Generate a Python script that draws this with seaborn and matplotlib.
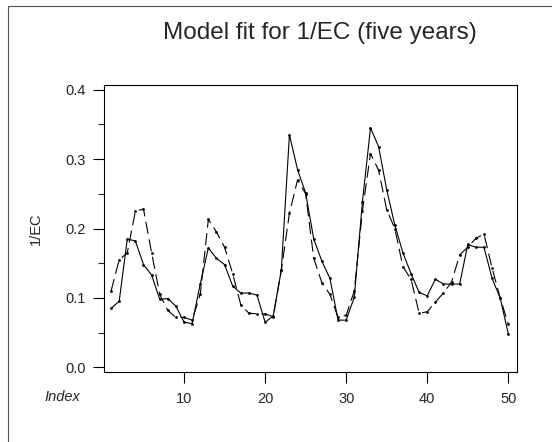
import numpy as np
import pandas as pd
import matplotlib
matplotlib.use("Agg")
import matplotlib.pyplot as plt
import seaborn as sns
from matplotlib.lines import Line2D
from matplotlib.ticker import MultipleLocator

# observed 1/EC and model fit, indices 1..50
index = list(range(1, 51))
observed = [0.085, 0.095, 0.185, 0.182, 0.148, 0.133, 0.098, 0.099, 0.088, 0.065,
            0.063, 0.120, 0.172, 0.157, 0.148, 0.117, 0.107, 0.107, 0.104, 0.065,
            0.074, 0.140, 0.335, 0.285, 0.251, 0.185, 0.153, 0.128, 0.068, 0.068,
            0.101, 0.238, 0.345, 0.318, 0.256, 0.205, 0.165, 0.135, 0.108, 0.103,
            0.127, 0.120, 0.120, 0.120, 0.177, 0.173, 0.173, 0.128, 0.100, 0.048]
fitted = [0.110, 0.155, 0.165, 0.225, 0.228, 0.165, 0.105, 0.082, 0.072, 0.072,
          0.068, 0.105, 0.213, 0.195, 0.173, 0.135, 0.090, 0.078, 0.077, 0.077,
          0.073, 0.140, 0.222, 0.270, 0.250, 0.157, 0.122, 0.105, 0.072, 0.075,
          0.110, 0.225, 0.308, 0.284, 0.227, 0.200, 0.145, 0.127, 0.078, 0.080,
          0.094, 0.107, 0.123, 0.162, 0.173, 0.186, 0.192, 0.143, 0.100, 0.062]

df = pd.DataFrame({"Index": index + index,
                   "value": observed + fitted,
                   "series": ["observed"] * 50 + ["fitted"] * 50})

sns.set_style("ticks")
plt.rcParams['font.family'] = ['Liberation Sans', 'DejaVu Sans']

fig = plt.figure(figsize=(5.52, 4.42), dpi=100)
ax = fig.add_axes([0.188, 0.158, 0.749, 0.650])

sns.lineplot(data=df, x="Index", y="value", hue="series", style="series",
             palette={"observed": "black", "fitted": "black"},
             dashes={"observed": "", "fitted": (11, 5)},
             markers={"observed": "o", "fitted": "o"}, markersize=2,
             markeredgewidth=0, linewidth=0.8, legend=False, ax=ax)

ax.set_xlim(0.1, 51.1)
ax.set_ylim(-0.007, 0.407)
ax.set_xticks([10, 20, 30, 40, 50])
ax.yaxis.set_major_locator(MultipleLocator(0.1))
ax.yaxis.set_minor_locator(MultipleLocator(0.05))
ax.yaxis.set_major_formatter(matplotlib.ticker.FormatStrFormatter('%.1f'))
ax.tick_params(axis='both', which='major', labelsize=10.5, length=8, width=0.8, color='black')
ax.tick_params(axis='x', which='major', pad=6)
ax.tick_params(axis='y', which='major', pad=5)
ax.tick_params(axis='y', which='minor', length=4, width=0.8)
for s in ax.spines.values():
    s.set_linewidth(0.8)
    s.set_color('black')

ax.set_xlabel("")
ax.set_ylabel("1/EC", fontsize=10.5, labelpad=16)
ax.text(-0.10, -0.087, "Index", transform=ax.transAxes, ha='center', va='center',
        fontsize=10.5, style='italic')
fig.text(0.58, 0.925, "Model fit for 1/EC (five years)", ha='center', va='center', fontsize=17.5)

# thin frame around the figure as in the scan
fig.add_artist(Line2D([0.015, 0.015], [0, 0.986], transform=fig.transFigure, color='#555555', lw=0.8))
fig.add_artist(Line2D([0.015, 1], [0.986, 0.986], transform=fig.transFigure, color='#555555', lw=0.8))

plt.savefig("out.png", dpi=100)
